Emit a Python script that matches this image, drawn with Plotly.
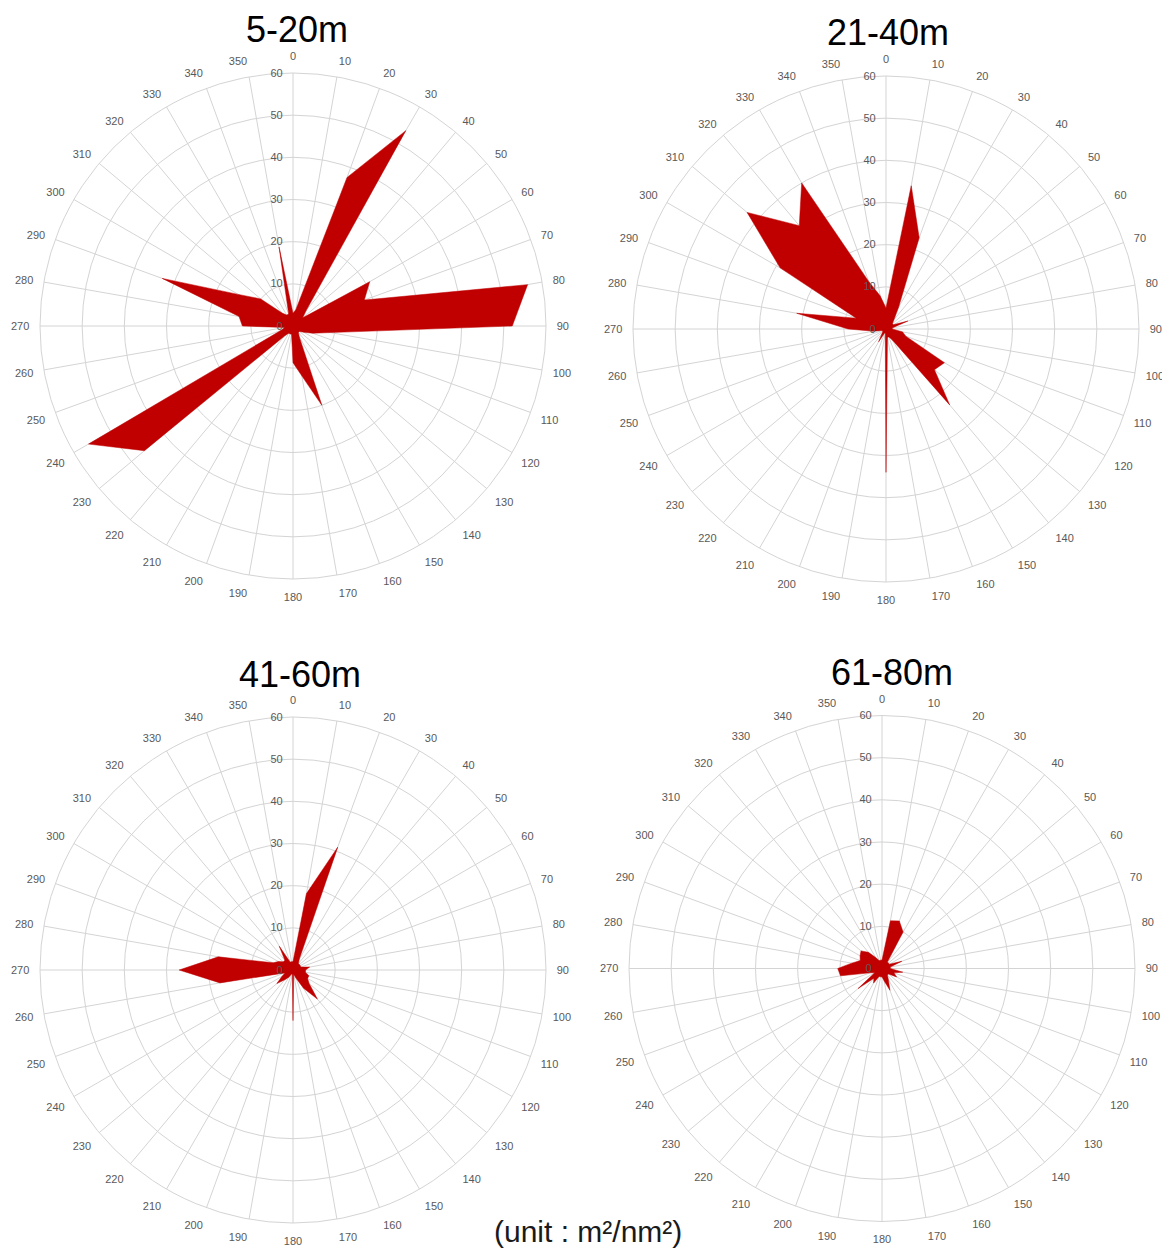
import plotly.graph_objects as go

directions = [str(d) for d in range(0, 360, 10)]

depth_5_20 = [3, 4, 37.5, 53.5, 5, 3, 21, 18, 56.5, 52, 9, 5, 3, 2, 2, 3, 20, 12,
              8.7, 2, 2, 2, 3, 46, 56, 3, 2, 12, 13, 33, 15, 10, 4, 3, 3, 19]
depth_21_40 = [5, 34.5, 23, 6, 3, 2, 2, 5.5, 1.5, 1.5, 4, 5, 16, 15, 23.5, 3, 2, 2,
               34, 1, 1, 3.5, 1.5, 1, 1, 1, 3, 9, 21.5, 7.5, 29, 43, 32, 40, 12, 8]
depth_41_60 = [2, 18.4, 31, 3, 2, 2, 2, 2, 4, 3, 3, 4, 4, 5, 9, 5, 2, 1,
               12, 1, 1, 2, 3, 5, 3, 2, 17.6, 27, 18, 5, 4, 3, 3, 6.5, 2, 2]
depth_61_80 = [2, 11.5, 12, 10, 2, 2, 2, 5, 2, 2, 5, 3, 4, 2, 2, 3, 5.5, 3,
               2, 2, 2, 4, 3, 7.4, 2, 3, 10, 10.5, 7.3, 5.5, 6, 6.5, 5, 3, 2, 2]

titles = ["5-20m", "21-40m", "41-60m", "61-80m"]
series = [depth_5_20, depth_21_40, depth_41_60, depth_61_80]
radial_ticks = [0, 10, 20, 30, 40, 50, 60]

W, H = 1170, 1248
OFF = 8  # page body margin in the browser
# panel centres (px, in the screenshot) and radius
centres = [(293, 326), (886, 329), (293, 970), (882, 968.5)]
R = 253
title_pos = [(297, 29), (888, 32), (300, 674), (892, 672)]


def px(x):
    return (x - OFF) / W


def py(y):
    return 1 - (y - OFF) / H


fig = go.Figure()
RED = "#c00000"
GRID = "#d4d4d4"
TICKC = "#595959"

for i, (vals, name) in enumerate(zip(series, titles)):
    pid = "polar" if i == 0 else f"polar{i+1}"
    fig.add_trace(go.Scatterpolar(
        r=vals + [vals[0]],
        theta=directions + [directions[0]],
        mode="lines",
        fill="toself",
        fillcolor=RED,
        line=dict(color=RED, width=0.5),
        subplot=pid,
        showlegend=False,
        hoverinfo="skip",
    ))
    cx, cy = centres[i]
    dom_x = [px(cx - R), px(cx + R)]
    dom_y = [py(cy + R), py(cy - R)]
    fig.layout[pid] = dict(
        domain=dict(x=dom_x, y=dom_y),
        bgcolor="white",
        radialaxis=dict(
            range=[0, 60],
            tickvals=radial_ticks,
            angle=90,
            side="counterclockwise",
            tickangle=90,
            showline=False,
            ticks="outside",
            ticklen=6,
            tickcolor="rgba(0,0,0,0)",
            gridcolor=GRID,
            gridwidth=1,
            tickfont=dict(family="Liberation Sans, Arial", size=11, color=TICKC),
            layer="above traces",
        ),
        angularaxis=dict(
            type="category",
            categoryarray=directions,
            rotation=90,
            direction="clockwise",
            showline=True,
            linecolor=GRID,
            linewidth=1,
            gridcolor=GRID,
            gridwidth=1,
            ticks="outside",
            ticklen=8,
            tickcolor="rgba(0,0,0,0)",
            tickfont=dict(family="Liberation Sans, Arial", size=11, color=TICKC),
            layer="above traces",
        ),
    )
    tx, ty = title_pos[i]
    fig.add_annotation(
        x=px(tx), y=py(ty), xref="paper", yref="paper",
        text=name, showarrow=False, xanchor="center", yanchor="middle",
        font=dict(family="Liberation Sans, Arial", size=36, color="black"),
    )

fig.add_annotation(
    x=px(588), y=py(1231), xref="paper", yref="paper",
    text="(unit : m²/nm²)", showarrow=False, xanchor="center", yanchor="middle",
    font=dict(family="Liberation Sans, Arial", size=30, color="#1a1a1a"),
)

fig.update_layout(
    width=W, height=H,
    margin=dict(l=0, r=0, t=0, b=0),
    paper_bgcolor="white",
    plot_bgcolor="white",
)

fig.write_html("out.html")
